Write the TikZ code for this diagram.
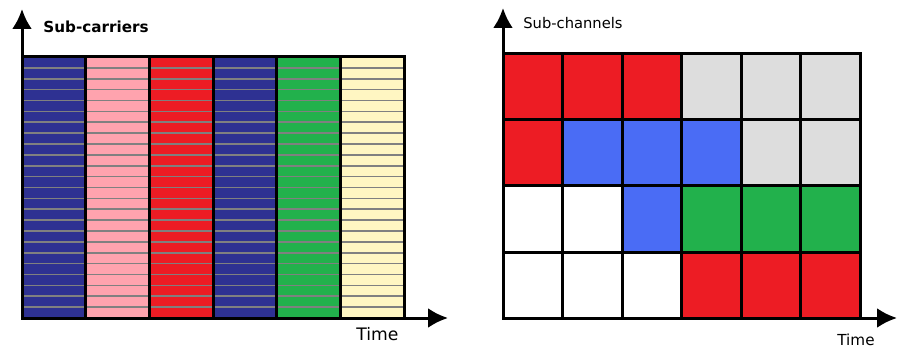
\documentclass[tikz,border=0pt]{standalone}
\usepackage{fontspec}
\setmainfont{DejaVu Sans}
\usetikzlibrary{arrows.meta}

\definecolor{navy}{HTML}{2E3192}
\definecolor{pinkish}{HTML}{FFA3AE}
\definecolor{redish}{HTML}{ED1C24}
\definecolor{greenish}{HTML}{22B14C}
\definecolor{cream}{HTML}{FFF6C2}
\definecolor{greyish}{HTML}{DDDDDD}
\definecolor{blueish}{HTML}{4A6CF5}

\tikzset{
    axis/.style={-{Latex[length=10pt,width=10pt]}, line width=1.5pt},
    frame/.style={line width=1.5pt},
    carrier/.style={line width=0.8pt, gray},
    lbl/.style={inner sep=0pt, anchor=west}
}

\begin{document}
\begin{tikzpicture}[x=0.5pt, y=-0.5pt]
        \useasboundingbox (0,0) rectangle (898,347);
        % left: sub-carriers
        \coordinate (oA) at (22,318);
        \coordinate (yA) at (22,9);
        \coordinate (xA) at (448,318);
        \foreach \c [count=\i from 0] in {navy,pinkish,redish,navy,greenish,cream}
            \fill[\c] (22+\i*63.67,57) rectangle ++(63.67,261);
        \foreach \k in {1,...,23}
            \draw[carrier] (24,57+\k*10.875) -- (403,57+\k*10.875);
        \foreach \i in {1,...,5}
            \draw[frame] (22+\i*63.67,57) -- (22+\i*63.67,318);
        \draw[frame] (22,57) rectangle (404,318);
        \draw[axis] (oA) -- (yA);
        \draw[axis] (oA) -- (xA);
        \node[lbl, font=\bfseries\fontsize{7.6}{9}\selectfont] (subcar) at (43,27) {Sub-carriers};
        \node[lbl, font=\fontsize{8.6}{10}\selectfont] (timeA) at (356,334) {Time};

        % right: sub-channels
        \coordinate (oB) at (503,318);
        \coordinate (yB) at (503,8);
        \coordinate (xB) at (897,318);
        \foreach \row [count=\j from 0] in {{redish,redish,redish,greyish,greyish,greyish},
                {redish,blueish,blueish,blueish,greyish,greyish},
                {white,white,blueish,greenish,greenish,greenish},
                {white,white,white,redish,redish,redish}}
            \foreach \c [count=\i from 0] in \row
                \draw[frame, fill=\c] (503+\i*59.5,54+\j*66) rectangle ++(59.5,66);
        \draw[axis] (oB) -- (yB);
        \draw[axis] (oB) -- (xB);
        \node[lbl, font=\fontsize{7.35}{9}\selectfont] (subch) at (523,23) {Sub-channels};
        \node[lbl, font=\fontsize{7.6}{9}\selectfont] (timeB) at (837,340) {Time};
    \end{tikzpicture}
\end{document}
